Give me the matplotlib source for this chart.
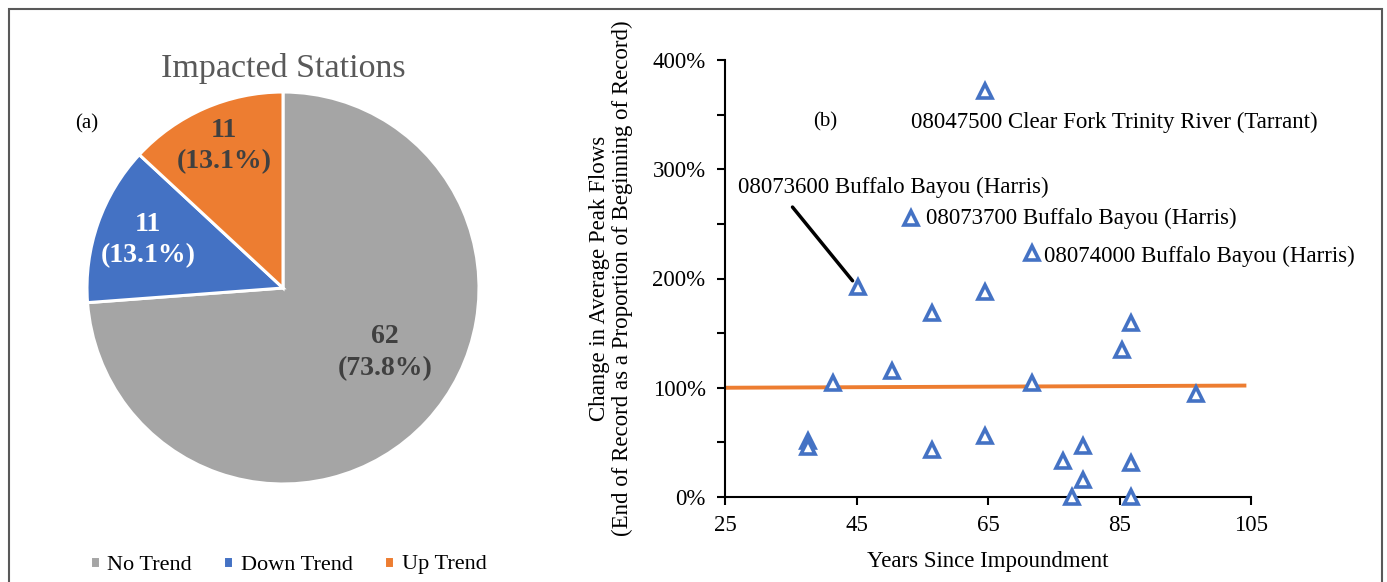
import matplotlib
matplotlib.use("Agg")
import matplotlib.pyplot as plt
from matplotlib.patches import Rectangle
from matplotlib.ticker import MultipleLocator, FuncFormatter, FixedLocator

plt.rcParams['font.family'] = ['Liberation Serif', 'DejaVu Serif']

# ---------------- data ----------------
pie_labels = ["No Trend", "Down Trend", "Up Trend"]
pie_counts = [62, 11, 11]
pie_colors = ["#A5A5A5", "#4472C4", "#ED7D31"]

years = [64.5, 53.3, 71.7, 45.2, 64.5, 56.5, 86.7, 85.4, 50.4, 41.4, 71.7,
         96.6, 37.6, 37.6, 64.5, 56.5, 79.4, 76.4, 86.7, 79.4, 77.8, 86.7]
change_pct = [372, 255, 223, 192, 188, 168, 159, 135, 115, 104, 104,
              94, 51, 46, 56, 43, 47, 33, 31, 16, 0, 0]

trend_x = [25, 104]
trend_y = [100, 102]

x_ticks = [25, 45, 65, 85, 105]

station_labels = {
    0: "08047500 Clear Fork Trinity River (Tarrant)",
    3: "08073600 Buffalo Bayou (Harris)",
    1: "08073700 Buffalo Bayou (Harris)",
    2: "08074000 Buffalo Bayou (Harris)",
}

W, H = 1387, 582
fig = plt.figure(figsize=(W / 100, H / 100), dpi=100)

def fx(px):
    return px / W

def fy(py):
    return 1 - py / H

# outer border
fig.patches.append(Rectangle((fx(9), fy(600)), fx(1382) - fx(9), fy(9) - fy(600),
                             transform=fig.transFigure, fill=False,
                             edgecolor="#595959", linewidth=1.5, clip_on=False))

# ---------------- pie ----------------
cx, cy, r = 283, 288, 196
axp = fig.add_axes([fx(cx - r), fy(cy + r), 2 * r / W, 2 * r / H])
wedges, _ = axp.pie(pie_counts, colors=pie_colors, startangle=90, counterclock=False,
                    radius=1, wedgeprops=dict(edgecolor="white", linewidth=2.2))
axp.set_xlim(-1, 1)
axp.set_ylim(-1, 1)
axp.set_aspect('auto')
axp.axis('off')

total = sum(pie_counts)
lbl_pos = [(0.52, -0.33), (-0.69, 0.245), (-0.30, 0.725)]
lbl_col = ["#404040", "white", "#404040"]
for cnt, pos, col in zip(pie_counts, lbl_pos, lbl_col):
    axp.text(pos[0], pos[1], f"{cnt}\n({100 * cnt / total:.1f}%)", ha='center', va='center',
             fontsize=20, fontweight='bold', color=col, linespacing=1.35)

fig.text(fx(283), fy(68), "Impacted Stations", ha='center', va='center',
         fontsize=24.5, color="#595959")
fig.text(fx(87), fy(124), "(a)", ha='center', va='center', fontsize=15, color='black')

fig.legend(wedges, pie_labels, loc='center', bbox_to_anchor=(fx(288), fy(565)), ncol=3,
           frameon=False, fontsize=16, handlelength=0.45, handleheight=0.45,
           handletextpad=0.35, columnspacing=1.4, borderpad=0)

# ---------------- scatter ----------------
ax = fig.add_axes([fx(725), fy(497), fx(1251) - fx(725), fy(60) - fy(497)])
ax.plot(trend_x, trend_y, color="#ED7D31", linewidth=2.8, zorder=2)
ax.plot(years, change_pct, linestyle='none', marker='^', markersize=10,
        markerfacecolor='white', markeredgecolor="#4472C4", markeredgewidth=2.6,
        clip_on=False, zorder=3)

ax.set_xlim(25, 105)
ax.set_ylim(0, 400)
ax.xaxis.set_major_locator(FixedLocator(x_ticks))
ax.yaxis.set_major_locator(MultipleLocator(100))
ax.yaxis.set_minor_locator(MultipleLocator(50))
ax.yaxis.set_major_formatter(FuncFormatter(lambda v, p: f"{v:.0f}%"))
ax.spines['top'].set_visible(False)
ax.spines['right'].set_visible(False)
for s in ('left', 'bottom'):
    ax.spines[s].set_linewidth(1.5)
ax.tick_params(axis='both', which='both', direction='out', width=1.5, labelsize=16.5)
ax.tick_params(axis='both', which='major', length=6)
ax.tick_params(axis='y', which='minor', length=6)
ax.tick_params(axis='y', which='major', pad=8)
ax.tick_params(axis='x', which='major', pad=7)
ax.set_xlabel("Years Since Impoundment", fontsize=16.5, labelpad=11)
ax.set_ylabel("Change in Average Peak Flows\n(End of Record as a Proportion of Beginning of Record)",
              fontsize=16.5, labelpad=14, linespacing=1.1)

ax.text(0.19, 0.859, "(b)", transform=ax.transAxes, ha='center', va='center', fontsize=15)

# labels for notable stations
i = 0
ax.annotate(station_labels[i], xy=(years[i], change_pct[i]), xytext=(-53, -23),
            textcoords='offset points', ha='left', va='center', fontsize=16.5)
i = 1
ax.annotate(station_labels[i], xy=(years[i], change_pct[i]), xytext=(11, 0),
            textcoords='offset points', ha='left', va='center', fontsize=16.5)
i = 2
ax.annotate(station_labels[i], xy=(years[i], change_pct[i]), xytext=(8.5, -2),
            textcoords='offset points', ha='left', va='center', fontsize=16.5)
i = 3
ax.annotate(station_labels[i], xy=(years[i], change_pct[i]), xytext=(-86, 72),
            textcoords='offset points', ha='left', va='center', fontsize=16.5,
            arrowprops=dict(arrowstyle='-', color='black', linewidth=2.5,
                            relpos=(0.15, 0), shrinkA=6, shrinkB=6))

fig.savefig("out.png", dpi=100)
